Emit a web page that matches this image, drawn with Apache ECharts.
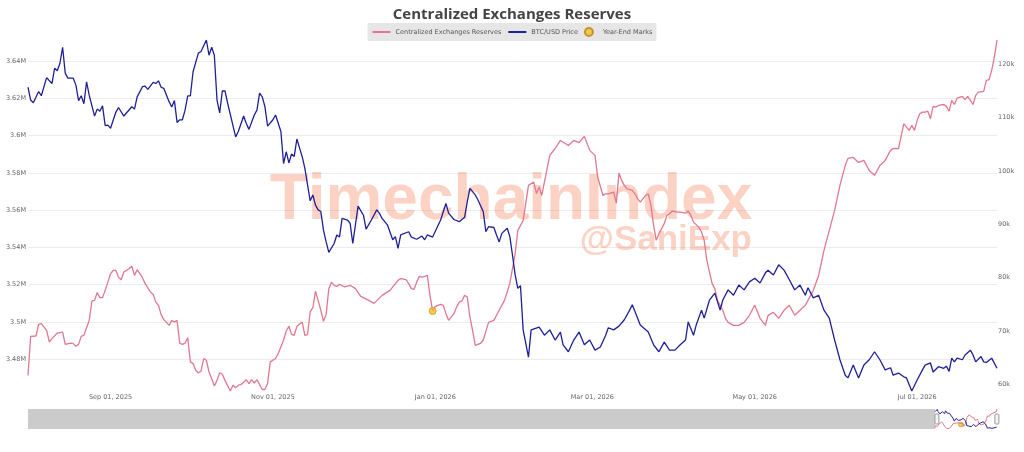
<!DOCTYPE html>
<html><head><meta charset="utf-8">
<script src="https://cdn.jsdelivr.net/npm/echarts@6/dist/echarts.min.js"></script>
<style>html,body{margin:0;padding:0;background:#fff}#chart{width:1024px;height:452px}</style>
</head><body><div id="chart"></div>
<script>
const TITLE = 'Centralized Exchanges Reserves';
const NAME_RES = 'Centralized Exchanges Reserves';
const NAME_BTC = 'BTC/USD Price';
const NAME_YE = 'Year-End Marks';
const HISTORY_START = '2011-01-01';
const VIEW_START = '2025-08-01';
const VIEW_END = '2026-07-31';
const MONTHS = ['Jan','Feb','Mar','Apr','May','Jun','Jul','Aug','Sep','Oct','Nov','Dec'];

// Centralized exchanges reserves (millions of BTC)
const reserves = [
['2025-08-01',3.4714],['2025-08-02',3.4923],['2025-08-04',3.4925],['2025-08-05',3.4988],['2025-08-06',3.4991],['2025-08-08',3.4955],['2025-08-09',3.4893],['2025-08-10',3.4911],['2025-08-12',3.4941],['2025-08-14',3.4946],['2025-08-15',3.4880],['2025-08-17',3.4887],['2025-08-18',3.4884],['2025-08-19',3.4870],['2025-08-20',3.4880],['2025-08-21',3.4923],['2025-08-22',3.4929],['2025-08-24',3.5009],['2025-08-25',3.5113],['2025-08-26',3.5116],['2025-08-27',3.5158],['2025-08-28',3.5131],['2025-08-29',3.5131],['2025-08-30',3.5170],['2025-08-31',3.5214],
['2025-09-01',3.5259],['2025-09-02',3.5277],['2025-09-03',3.5277],['2025-09-04',3.5241],['2025-09-05',3.5227],['2025-09-06',3.5268],['2025-09-07',3.5277],['2025-09-09',3.5299],['2025-09-10',3.5250],['2025-09-11',3.5281],['2025-09-12',3.5260],['2025-09-13',3.5238],['2025-09-14',3.5206],['2025-09-16',3.5161],['2025-09-17',3.5149],['2025-09-18',3.5107],['2025-09-19',3.5090],['2025-09-20',3.5040],['2025-09-21',3.5013],['2025-09-23',3.4982],['2025-09-24',3.5009],['2025-09-25',3.5000],['2025-09-26',3.5009],['2025-09-27',3.4887],['2025-09-28',3.4880],['2025-09-29',3.4887],['2025-09-30',3.4916],
['2025-10-01',3.4786],['2025-10-02',3.4777],['2025-10-03',3.4741],['2025-10-04',3.4727],['2025-10-05',3.4737],['2025-10-06',3.4804],['2025-10-07',3.4795],['2025-10-08',3.4732],['2025-10-09',3.4697],['2025-10-10',3.4657],['2025-10-11',3.4687],['2025-10-12',3.4727],['2025-10-13',3.4720],['2025-10-14',3.4687],['2025-10-16',3.4630],['2025-10-17',3.4661],['2025-10-18',3.4648],['2025-10-19',3.4661],['2025-10-20',3.4664],['2025-10-22',3.4691],['2025-10-23',3.4670],['2025-10-24',3.4691],['2025-10-25',3.4673],['2025-10-26',3.4691],['2025-10-28',3.4638],['2025-10-29',3.4638],['2025-10-30',3.4670],['2025-10-31',3.4786],
['2025-11-02',3.4804],['2025-11-03',3.4831],['2025-11-05',3.4902],['2025-11-06',3.4952],['2025-11-07',3.4977],['2025-11-08',3.4934],['2025-11-09',3.4929],['2025-11-10',3.4977],['2025-11-12',3.5000],['2025-11-13',3.4929],['2025-11-14',3.4932],['2025-11-15',3.5054],['2025-11-16',3.5077],['2025-11-17',3.5166],['2025-11-19',3.5063],['2025-11-20',3.5004],['2025-11-21',3.5041],['2025-11-22',3.5179],['2025-11-23',3.5214],['2025-11-24',3.5197],['2025-11-25',3.5191],['2025-11-26',3.5202],['2025-11-28',3.5188],['2025-11-30',3.5197],
['2025-12-02',3.5179],['2025-12-04',3.5138],['2025-12-07',3.5116],['2025-12-09',3.5100],['2025-12-12',3.5143],['2025-12-15',3.5170],['2025-12-18',3.5224],['2025-12-19',3.5233],['2025-12-21',3.5227],['2025-12-22',3.5206],['2025-12-23',3.5179],['2025-12-24',3.5175],['2025-12-25',3.5214],['2025-12-26',3.5245],['2025-12-27',3.5241],['2025-12-28',3.5245],['2025-12-29',3.5250],['2025-12-30',3.5143],['2025-12-31',3.5059],
['2026-01-01',3.5084],['2026-01-03',3.5095],['2026-01-04',3.5090],['2026-01-05',3.5045],['2026-01-06',3.5009],['2026-01-08',3.5045],['2026-01-09',3.5080],['2026-01-10',3.5107],['2026-01-11',3.5113],['2026-01-12',3.5143],['2026-01-13',3.5134],['2026-01-14',3.5027],['2026-01-15',3.4955],['2026-01-16',3.4875],['2026-01-18',3.4886],['2026-01-19',3.4902],['2026-01-21',3.4998],['2026-01-23',3.5009],['2026-01-25',3.5063],['2026-01-27',3.5116],['2026-01-29',3.5207],['2026-01-31',3.5367],
['2026-02-01',3.5492],['2026-02-03',3.5545],['2026-02-05',3.5733],['2026-02-07',3.5751],['2026-02-08',3.5689],['2026-02-09',3.5724],['2026-02-10',3.5679],['2026-02-13',3.5894],['2026-02-15',3.5931],['2026-02-17',3.5974],['2026-02-20',3.5947],['2026-02-22',3.5974],['2026-02-24',3.5963],['2026-02-26',3.5996],['2026-02-28',3.5921],
['2026-03-02',3.5894],['2026-03-03',3.5777],['2026-03-05',3.5679],['2026-03-06',3.5688],['2026-03-07',3.5688],['2026-03-09',3.5697],['2026-03-10',3.5638],['2026-03-11',3.5799],['2026-03-12',3.5760],['2026-03-13',3.5733],['2026-03-14',3.5715],['2026-03-16',3.5706],['2026-03-17',3.5688],['2026-03-18',3.5662],['2026-03-19',3.5643],['2026-03-21',3.5679],['2026-03-22',3.5688],['2026-03-23',3.5626],['2026-03-24',3.5519],['2026-03-25',3.5438],['2026-03-26',3.5474],['2026-03-28',3.5528],['2026-03-29',3.5572],['2026-03-30',3.5581],['2026-03-31',3.5595],
['2026-04-02',3.5590],['2026-04-03',3.5590],['2026-04-05',3.5584],['2026-04-06',3.5595],['2026-04-07',3.5572],['2026-04-08',3.5536],['2026-04-10',3.5509],['2026-04-11',3.5483],['2026-04-12',3.5438],['2026-04-13',3.5331],['2026-04-15',3.5206],['2026-04-16',3.5179],['2026-04-17',3.5116],['2026-04-19',3.5063],['2026-04-20',3.5020],['2026-04-21',3.4998],['2026-04-23',3.4982],['2026-04-25',3.4982],['2026-04-27',3.4998],['2026-04-29',3.5036],
['2026-05-01',3.5090],['2026-05-03',3.5020],['2026-05-05',3.4982],['2026-05-06',3.5036],['2026-05-08',3.5052],['2026-05-10',3.5020],['2026-05-12',3.5063],['2026-05-14',3.5090],['2026-05-16',3.5036],['2026-05-18',3.5063],['2026-05-20',3.5090],['2026-05-21',3.5116],['2026-05-23',3.5170],['2026-05-25',3.5250],['2026-05-27',3.5384],['2026-05-29',3.5492],['2026-05-31',3.5599],
['2026-06-02',3.5733],['2026-06-04',3.5840],['2026-06-05',3.5878],['2026-06-07',3.5883],['2026-06-09',3.5856],['2026-06-11',3.5867],['2026-06-13',3.5813],['2026-06-15',3.5787],['2026-06-17',3.5840],['2026-06-19',3.5867],['2026-06-21',3.5921],['2026-06-22',3.5931],['2026-06-24',3.5930],['2026-06-26',3.6064],['2026-06-27',3.6046],['2026-06-28',3.6028],['2026-06-29',3.6055],['2026-06-30',3.6028],
['2026-07-01',3.6082],['2026-07-02',3.6117],['2026-07-03',3.6126],['2026-07-04',3.6126],['2026-07-05',3.6131],['2026-07-06',3.6091],['2026-07-07',3.6157],['2026-07-08',3.6153],['2026-07-09',3.6162],['2026-07-11',3.6167],['2026-07-12',3.6157],['2026-07-13',3.6131],['2026-07-14',3.6189],['2026-07-15',3.6167],['2026-07-16',3.6201],['2026-07-18',3.6210],['2026-07-19',3.6193],['2026-07-20',3.6210],['2026-07-21',3.6189],['2026-07-22',3.6167],['2026-07-23',3.6216],['2026-07-24',3.6233],['2026-07-26',3.6237],['2026-07-27',3.6296],['2026-07-28',3.6300],['2026-07-29',3.6350],['2026-07-30',3.6420],['2026-07-31',3.6513]
];

// BTC/USD price (USD)
const btcPrice = [
['2025-08-01',115700],['2025-08-02',113300],['2025-08-03',112800],['2025-08-05',114900],['2025-08-06',114100],['2025-08-08',117500],['2025-08-10',116400],['2025-08-11',119250],['2025-08-12',118800],['2025-08-13',120200],['2025-08-14',123200],['2025-08-15',118300],['2025-08-16',117400],['2025-08-18',117400],['2025-08-19',116100],['2025-08-20',113200],['2025-08-21',114100],['2025-08-22',112600],['2025-08-23',116700],['2025-08-24',114200],['2025-08-26',110300],['2025-08-27',111600],['2025-08-28',111200],['2025-08-29',112200],['2025-08-30',108500],['2025-08-31',108600],
['2025-09-01',108000],['2025-09-03',111000],['2025-09-04',111900],['2025-09-06',110300],['2025-09-09',112050],['2025-09-10',111600],['2025-09-11',113900],['2025-09-13',115800],['2025-09-14',115900],['2025-09-15',115300],['2025-09-17',116600],['2025-09-18',116400],['2025-09-19',116900],['2025-09-20',115700],['2025-09-21',115500],['2025-09-23',113000],['2025-09-24',112000],['2025-09-25',113200],['2025-09-26',109100],['2025-09-27',109600],['2025-09-28',109600],['2025-09-29',111400],['2025-09-30',114100],
['2025-10-01',114100],['2025-10-02',118600],['2025-10-04',122100],['2025-10-05',122400],['2025-10-07',124560],['2025-10-08',121700],['2025-10-09',123200],['2025-10-10',121700],['2025-10-11',113300],['2025-10-12',110900],['2025-10-13',115000],['2025-10-14',115000],['2025-10-15',112700],['2025-10-18',106400],['2025-10-19',107400],['2025-10-21',110300],['2025-10-22',108900],['2025-10-23',107800],['2025-10-25',110500],['2025-10-26',111400],['2025-10-27',114600],['2025-10-28',113900],['2025-10-29',112050],['2025-10-30',108400],
['2025-11-01',109600],['2025-11-02',110500],['2025-11-04',107400],['2025-11-05',101400],['2025-11-06',103600],['2025-11-07',101500],['2025-11-08',103200],['2025-11-09',102700],['2025-11-10',106000],['2025-11-12',102700],['2025-11-13',100500],['2025-11-15',94400],['2025-11-16',95500],['2025-11-17',93600],['2025-11-18',92700],['2025-11-19',92400],['2025-11-20',88900],['2025-11-21',86700],['2025-11-22',84750],['2025-11-24',86400],['2025-11-25',88000],['2025-11-26',87600],['2025-11-27',91100],['2025-11-29',90800],['2025-11-30',90200],
['2025-12-01',86400],['2025-12-03',93400],['2025-12-05',91700],['2025-12-06',89100],['2025-12-08',90800],['2025-12-10',92700],['2025-12-11',92100],['2025-12-12',91100],['2025-12-14',89900],['2025-12-16',87100],['2025-12-17',87700],['2025-12-18',85500],['2025-12-19',88000],['2025-12-22',88600],['2025-12-23',87600],['2025-12-25',87200],['2025-12-27',87800],['2025-12-28',87100],['2025-12-29',88000],['2025-12-31',87600],
['2026-01-01',88700],['2026-01-03',90800],['2026-01-05',93900],['2026-01-06',92100],['2026-01-08',90900],['2026-01-10',90500],['2026-01-12',91300],['2026-01-13',94200],['2026-01-14',96750],['2026-01-16',95500],['2026-01-17',94600],['2026-01-19',92400],['2026-01-20',88600],['2026-01-21',89550],['2026-01-23',89400],['2026-01-24',88000],['2026-01-25',86700],['2026-01-26',88300],['2026-01-28',89250],['2026-01-29',87700],['2026-01-30',84200],['2026-01-31',80500],
['2026-02-01',78000],['2026-02-02',78500],['2026-02-03',70200],['2026-02-05',65100],['2026-02-06',70200],['2026-02-09',70700],['2026-02-11',69200],['2026-02-13',70200],['2026-02-15',68300],['2026-02-17',69800],['2026-02-18',67400],['2026-02-20',66100],['2026-02-22',68300],['2026-02-24',69800],['2026-02-26',67400],['2026-02-28',68300],
['2026-03-02',66400],['2026-03-04',67000],['2026-03-06',69200],['2026-03-07',70600],['2026-03-09',70200],['2026-03-11',70900],['2026-03-13',72100],['2026-03-15',73900],['2026-03-16',74900],['2026-03-18',72400],['2026-03-19',71100],['2026-03-22',69800],['2026-03-24',67400],['2026-03-26',66100],['2026-03-28',67900],['2026-03-30',66400],
['2026-04-01',66400],['2026-04-03',67400],['2026-04-05',68300],['2026-04-06',71700],['2026-04-08',69200],['2026-04-09',71100],['2026-04-11',73900],['2026-04-12',72400],['2026-04-14',75800],['2026-04-16',77100],['2026-04-18',73900],['2026-04-19',75800],['2026-04-21',77700],['2026-04-23',76700],['2026-04-25',78600],['2026-04-27',77700],['2026-04-29',79200],
['2026-05-01',79900],['2026-05-03',79000],['2026-05-05',80900],['2026-05-06',81400],['2026-05-08',80500],['2026-05-10',82400],['2026-05-12',81400],['2026-05-14',79600],['2026-05-16',77700],['2026-05-18',78600],['2026-05-20',76700],['2026-05-21',78100],['2026-05-23',76200],['2026-05-25',76700],['2026-05-27',73900],['2026-05-29',72400],['2026-05-31',68300],
['2026-06-02',64600],['2026-06-04',61700],['2026-06-05',61200],['2026-06-07',63600],['2026-06-09',61200],['2026-06-11',63600],['2026-06-13',64600],['2026-06-15',66100],['2026-06-17',64600],['2026-06-19',62700],['2026-06-21',63100],['2026-06-22',61700],['2026-06-24',62100],['2026-06-26',61400],['2026-06-27',61200],['2026-06-29',58740],
['2026-07-01',60800],['2026-07-03',62700],['2026-07-04',63600],['2026-07-06',64000],['2026-07-07',62300],['2026-07-09',63300],['2026-07-11',63000],['2026-07-12',63400],['2026-07-13',62400],['2026-07-14',64900],['2026-07-15',64200],['2026-07-16',64900],['2026-07-18',64600],['2026-07-19',65500],['2026-07-21',66400],['2026-07-22',65500],['2026-07-23',64200],['2026-07-25',65200],['2026-07-26',64200],['2026-07-27',64100],['2026-07-29',64900],['2026-07-31',63000]
];

// Year-end marks on the reserves series
const yearEndMarks = [['2025-12-31', 3.5059]];

function pad(n){ return (n < 10 ? '0' : '') + n; }
function buildCategories(a, b){
  const out = [];
  const pa = a.split('-').map(Number), pb = b.split('-').map(Number);
  let t = Date.UTC(pa[0], pa[1]-1, pa[2]);
  const end = Date.UTC(pb[0], pb[1]-1, pb[2]);
  while (t <= end) {
    const d = new Date(t);
    out.push(d.getUTCFullYear() + '-' + pad(d.getUTCMonth()+1) + '-' + pad(d.getUTCDate()));
    t += 86400000;
  }
  return out;
}
const categories = buildCategories(HISTORY_START, VIEW_END);

const RED = '#e0788f';
const BLUE = '#1f1f96';
const GOLD = '#f4bf2a';
const SMALL_FONT = 'DejaVu Sans';

const chart = echarts.init(document.getElementById('chart'), null, {renderer: 'canvas'});
chart.setOption({
  backgroundColor: '#ffffff',
  animation: false,
  title: {
    text: TITLE, left: 'center', top: 2,
    textStyle: {fontFamily: 'Open Sans', fontWeight: 'bold', fontSize: 15, color: '#444'}
  },
  legend: {
    top: 23, left: 'center',
    backgroundColor: '#e6e6e6', padding: [4, 4],
    itemWidth: 18, itemHeight: 8, itemGap: 6,
    textStyle: {fontFamily: SMALL_FONT, fontSize: 6.5, color: '#555'},
    data: [
      {name: NAME_RES, itemStyle: {opacity: 0}},
      {name: NAME_BTC, itemStyle: {opacity: 0}},
      {name: NAME_YE}
    ]
  },
  graphic: [
    {type: 'text', z: 1, silent: true,
     style: {text: 'TimechainIndex', x: 511, y: 201, textAlign: 'center', textVerticalAlign: 'middle',
             font: 'bold 64px "Liberation Sans"', fill: 'rgba(247,115,75,0.32)'}},
    {type: 'text', z: 1, silent: true,
     style: {text: '@SaniExp', x: 752, y: 240, textAlign: 'right', textVerticalAlign: 'middle',
             font: 'bold 35px "Liberation Sans"', fill: 'rgba(247,115,75,0.32)'}}
  ],
  grid: [
    {left: 28, right: 27, top: 40, bottom: 61},
    {left: 28, right: 27, top: 409, height: 20}
  ],
  xAxis: [
    {type: 'category', gridIndex: 0, data: categories, boundaryGap: false,
     axisLine: {show: false}, axisTick: {show: false}, splitLine: {show: false},
     axisLabel: {
       margin: 3, fontFamily: SMALL_FONT, fontSize: 6.5, color: '#666',
       interval: function(i, v){ return v.slice(8) === '01' && (+v.slice(5,7)) % 2 === 1; },
       formatter: function(v){ return MONTHS[+v.slice(5,7)-1] + ' ' + v.slice(8,10) + ', ' + v.slice(0,4); }
     }},
    {type: 'category', gridIndex: 1, data: categories, boundaryGap: false, show: false}
  ],
  yAxis: [
    {type: 'value', gridIndex: 0, position: 'left', min: 'dataMin', max: 'dataMax', splitNumber: 9,
     axisLine: {show: false}, axisTick: {show: false},
     axisLabel: {margin: 2, fontFamily: SMALL_FONT, fontSize: 6.5, color: '#666', showMinLabel: false, showMaxLabel: false,
                 formatter: function(v){ return parseFloat(v.toFixed(2)) + 'M'; }},
     splitLine: {show: true, showMinLine: false, showMaxLine: false, lineStyle: {color: '#ececec', width: 1}}},
    {type: 'value', gridIndex: 0, position: 'right', min: 'dataMin', max: 'dataMax', splitNumber: 6,
     axisLine: {show: false}, axisTick: {show: false}, splitLine: {show: false},
     axisLabel: {margin: 1, fontFamily: SMALL_FONT, fontSize: 6.5, color: '#666', showMinLabel: false, showMaxLabel: false,
                 formatter: function(v){ return Math.round(v/1000) + 'k'; }}},
    {type: 'value', gridIndex: 1, min: 'dataMin', max: 'dataMax', show: false},
    {type: 'value', gridIndex: 1, min: 'dataMin', max: 'dataMax', show: false}
  ],
  dataZoom: [{
    type: 'slider', xAxisIndex: 0, startValue: VIEW_START, endValue: VIEW_END,
    left: 28, right: 27, top: 409, height: 20,
    backgroundColor: 'rgba(0,0,0,0)', fillerColor: 'rgba(0,0,0,0)', borderColor: 'rgba(0,0,0,0)',
    showDataShadow: false, showDetail: false, brushSelect: false, moveHandleSize: 0,
    handleIcon: 'path://M1,0 L3,0 Q4,0 4,1 L4,9 Q4,10 3,10 L1,10 Q0,10 0,9 L0,1 Q0,0 1,0 Z',
    handleSize: '50%',
    handleStyle: {color: '#f4f4f4', borderColor: '#9a9a9a', borderWidth: 1}
  }],
  series: [
    {name: NAME_RES, type: 'line', xAxisIndex: 0, yAxisIndex: 0, data: reserves,
     symbol: 'none', lineStyle: {color: RED, width: 1.3}, itemStyle: {color: RED}, z: 3},
    {name: NAME_BTC, type: 'line', xAxisIndex: 0, yAxisIndex: 1, data: btcPrice,
     symbol: 'none', lineStyle: {color: BLUE, width: 1.3}, itemStyle: {color: BLUE}, z: 3},
    {name: NAME_YE, type: 'scatter', xAxisIndex: 0, yAxisIndex: 0, data: yearEndMarks,
     symbolSize: 7, itemStyle: {color: GOLD, borderColor: '#b8860b', borderWidth: 0.8}, z: 4},
    {name: 'mini-res', type: 'line', xAxisIndex: 1, yAxisIndex: 2, data: reserves, silent: true,
     symbol: 'none', lineStyle: {color: RED, width: 1}, itemStyle: {color: RED},
     markArea: {silent: true, itemStyle: {color: '#cbcbcb'}, data: [[{xAxis: HISTORY_START}, {xAxis: VIEW_START}]]}},
    {name: 'mini-btc', type: 'line', xAxisIndex: 1, yAxisIndex: 3, data: btcPrice, silent: true,
     symbol: 'none', lineStyle: {color: BLUE, width: 1}, itemStyle: {color: BLUE}},
    {name: 'mini-ye', type: 'scatter', xAxisIndex: 1, yAxisIndex: 2, data: yearEndMarks, silent: true,
     symbolSize: 5, itemStyle: {color: GOLD, borderColor: '#b8860b', borderWidth: 0.6}}
  ]
});
</script>
</body></html>
